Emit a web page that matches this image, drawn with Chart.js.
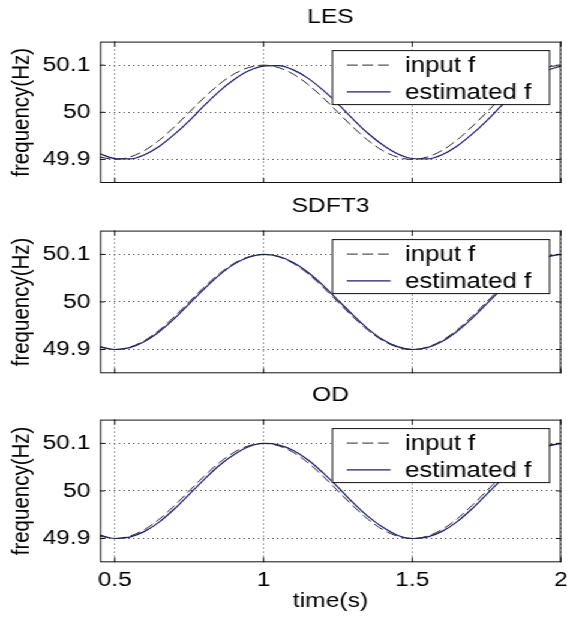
<!DOCTYPE html>
<html>
<head>
<meta charset="utf-8">
<script src="https://cdn.jsdelivr.net/npm/chart.js@4.4.0/dist/chart.umd.min.js"></script>
<style>
  html, body { margin: 0; padding: 0; background: #fff; overflow: hidden; }
  /* the source figure is stretched sideways, so draw narrow and widen */
  #wrap { position: absolute; left: 0; top: 0; width: 474px; height: 620px; transform: scaleX(1.2); transform-origin: 0 0; }
  .panel { position: absolute; left: 0; width: 474px; }
</style>
</head>
<body>
<div id="wrap">
  <div class="panel" style="top:0;height:189px"><canvas id="les"></canvas></div>
  <div class="panel" style="top:189px;height:189px"><canvas id="sdft3"></canvas></div>
  <div class="panel" style="top:378px;height:242px"><canvas id="od"></canvas></div>
</div>
<script>
// time axis samples (s)
const timeS = [0.45, 0.5, 0.55, 0.6, 0.65, 0.7, 0.75, 0.8, 0.85, 0.9, 0.95, 1.0,
               1.05, 1.1, 1.15, 1.2, 1.25, 1.3, 1.35, 1.4, 1.45, 1.5,
               1.55, 1.6, 1.65, 1.7, 1.75, 1.8, 1.85, 1.9, 1.95, 2.0];

// input frequency (dashed, same in all three panels)
const inputF = [49.905, 49.900, 49.905, 49.919, 49.941, 49.969, 50.000, 50.031, 50.059, 50.081, 50.095, 50.100,
                50.095, 50.081, 50.059, 50.031, 50.000, 49.969, 49.941, 49.919, 49.905, 49.900,
                49.905, 49.919, 49.941, 49.969, 50.000, 50.031, 50.059, 50.081, 50.095, 50.100];

// estimated frequency per method
const lesF = [49.912, 49.902, 49.901, 49.910, 49.928, 49.953, 49.982, 50.014, 50.044, 50.069, 50.088, 50.098,
              50.099, 50.090, 50.072, 50.047, 50.018, 49.986, 49.956, 49.931, 49.912, 49.902,
              49.901, 49.910, 49.928, 49.953, 49.982, 50.014, 50.044, 50.069, 50.088, 50.098];
const sdft3F = [49.906, 49.900, 49.904, 49.917, 49.938, 49.965, 49.996, 50.027, 50.056, 50.079, 50.094, 50.100,
                50.096, 50.083, 50.062, 50.035, 50.004, 49.973, 49.944, 49.921, 49.906, 49.900,
                49.904, 49.917, 49.938, 49.965, 49.996, 50.027, 50.056, 50.079, 50.094, 50.100];
const odF = [49.907, 49.900, 49.903, 49.915, 49.935, 49.962, 49.993, 50.024, 50.053, 50.076, 50.093, 50.100,
             50.097, 50.085, 50.065, 50.038, 50.008, 49.976, 49.947, 49.924, 49.907, 49.900,
             49.903, 49.915, 49.935, 49.962, 49.993, 50.024, 50.053, 50.076, 50.093, 50.100];

const yTicks = [49.9, 50, 50.1];
const xTicks = [0.5, 1, 1.5, 2];
const seriesNames = ['input f', 'estimated f'];

const FONT = "'Liberation Sans', Arial, sans-serif";
Chart.defaults.font.family = FONT;
Chart.defaults.font.size = 20.5;
Chart.defaults.color = '#000';

// box around the axes plus small inward ticks, matlab style
const framePlugin = {
    id: 'frame',
    afterDatasetsDraw(chart) {
        const { ctx, chartArea: a, scales } = chart;
        ctx.save();
        ctx.strokeStyle = '#111';
        ctx.lineWidth = 1;
        ctx.setLineDash([]);
        ctx.strokeRect(a.left + 0.5, a.top + 0.5, a.right - a.left - 1, a.bottom - a.top - 1);
        ctx.beginPath();
        scales.x.ticks.forEach(t => {
            const px = scales.x.getPixelForValue(t.value);
            ctx.moveTo(px, a.bottom); ctx.lineTo(px, a.bottom - 5);
            ctx.moveTo(px, a.top); ctx.lineTo(px, a.top + 5);
        });
        scales.y.ticks.forEach(t => {
            const py = scales.y.getPixelForValue(t.value);
            ctx.moveTo(a.left, py); ctx.lineTo(a.left + 4, py);
            ctx.moveTo(a.right, py); ctx.lineTo(a.right - 4, py);
        });
        ctx.stroke();
        ctx.restore();
    }
};

// boxed legend inside the upper right corner
const boxLegendPlugin = {
    id: 'boxLegend',
    afterDatasetsDraw(chart) {
        const { ctx, chartArea: a } = chart;
        const w = 181, h = 54;
        const x0 = a.right - 10 - w;
        const y0 = a.top + 8.5;
        ctx.save();
        ctx.fillStyle = '#fff';
        ctx.fillRect(x0, y0, w, h);
        ctx.strokeStyle = '#111';
        ctx.lineWidth = 1;
        ctx.strokeRect(x0 + 0.5, y0 + 0.5, w, h);
        chart.data.datasets.forEach((ds, i) => {
            const yy = y0 + 15 + i * 26.7;
            ctx.setLineDash(ds.borderDash || []);
            ctx.strokeStyle = ds.borderColor;
            ctx.lineWidth = ds.borderWidth;
            ctx.beginPath();
            ctx.moveTo(x0 + 12.5, yy);
            ctx.lineTo(x0 + 49, yy);
            ctx.stroke();
            ctx.setLineDash([]);
            ctx.fillStyle = '#000';
            ctx.font = '21.5px ' + FONT;
            ctx.textBaseline = 'middle';
            ctx.fillText(ds.label, x0 + 61, yy + 1);
        });
        ctx.restore();
    }
};

function makePanel(id, title, estimated, showX, xHeight) {
    return new Chart(document.getElementById(id), {
        type: 'line',
        data: {
            datasets: [
                {
                    label: seriesNames[0],
                    data: timeS.map((t, i) => ({ x: t, y: inputF[i] })),
                    borderColor: '#2a2a2a',
                    borderWidth: 1,
                    borderDash: [9, 4],
                    pointRadius: 0,
                    cubicInterpolationMode: 'monotone'
                },
                {
                    label: seriesNames[1],
                    data: timeS.map((t, i) => ({ x: t, y: estimated[i] })),
                    borderColor: '#1c1c70',
                    borderWidth: 1.2,
                    pointRadius: 0,
                    cubicInterpolationMode: 'monotone'
                }
            ]
        },
        options: {
            responsive: true,
            maintainAspectRatio: false,
            animation: false,
            layout: { padding: { left: 0, right: 6.5, top: 0, bottom: 0 } },
            plugins: {
                legend: { display: false },
                tooltip: { enabled: false },
                title: {
                    display: true,
                    text: title,
                    fullSize: false,
                    color: '#000',
                    font: { size: 20.5, weight: 'normal' },
                    padding: { top: 5, bottom: 12 }
                }
            },
            scales: {
                x: {
                    type: 'linear',
                    min: 0.45,
                    max: 2,
                    afterBuildTicks: s => { s.ticks = xTicks.map(v => ({ value: v })); },
                    afterFit: s => { s.height = xHeight; s.paddingLeft = 0; s.paddingRight = 0; },
                    grid: { color: '#444', lineWidth: 1, drawTicks: false },
                    border: { display: false, dash: [1, 3] },
                    ticks: { display: showX, padding: 6, maxRotation: 0, autoSkip: false, callback: v => String(v) },
                    title: { display: showX, text: 'time(s)', padding: { top: 0, bottom: 6 } }
                },
                y: {
                    min: 49.85,
                    max: 50.15,
                    afterBuildTicks: s => { s.ticks = yTicks.map(v => ({ value: v })); },
                    afterFit: s => { s.width = 83.3; s.paddingTop = 0; s.paddingBottom = 0; },
                    grid: { color: '#444', lineWidth: 1, drawTicks: false },
                    border: { display: false, dash: [1, 3] },
                    ticks: { padding: 8, callback: v => String(v) },
                    title: { display: true, text: 'frequency(Hz)', padding: { top: 6, bottom: 0 } }
                }
            }
        },
        plugins: [framePlugin, boxLegendPlugin]
    });
}

makePanel('les', 'LES', lesF, false, 6);
makePanel('sdft3', 'SDFT3', sdft3F, false, 4.7);
makePanel('od', 'OD', odF, true, 57.7);
</script>
</body>
</html>
